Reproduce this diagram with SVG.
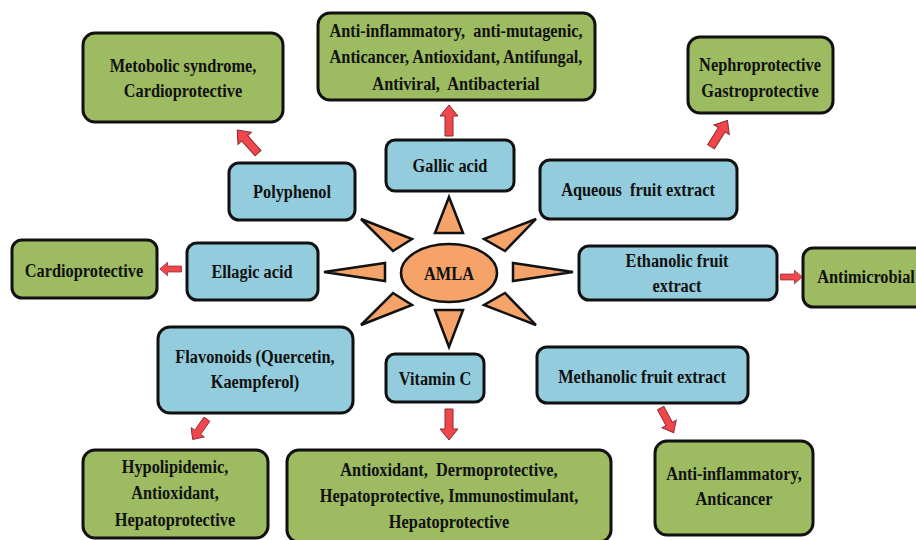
<svg xmlns="http://www.w3.org/2000/svg" width="916" height="540" viewBox="0 0 916 540">
<defs>
<style>
.g{fill:#9dbb61;stroke:#111;stroke-width:3}
.b{fill:#93cddd;stroke:#111;stroke-width:3}
.o{fill:#f6a36a;stroke:#111;stroke-width:2.5;stroke-linejoin:miter}
.t{font-family:"Liberation Serif",serif;font-weight:bold;font-size:19px;fill:#111;text-anchor:middle;white-space:pre}
.a{fill:#f0474c;stroke:#8a2a2e;stroke-width:1}
</style>
<path id="arr" d="M0,-16 L9,-5 L4,-5 L4,15 L-4,15 L-4,-5 L-9,-5 Z"/>
</defs>
<rect width="916" height="540" fill="#fff"/>

<g id="amla">
<polygon class="o" points="449,197 435,233 463,233"/>
<polygon class="o" points="449,347 435,310 463,310"/>
<polygon class="o" points="324,272 385,263 385,281"/>
<polygon class="o" points="573,272 513,263 513,281"/>
<polygon class="o" points="361,219 412,239 393,251"/>
<polygon class="o" points="536,219 484,239 505,251"/>
<polygon class="o" points="361,325 393,293 412,305"/>
<polygon class="o" points="536,325 505,293 484,305"/>
<ellipse class="o" cx="449" cy="273" rx="48" ry="29"/>
<text class="t" transform="translate(449,280) scale(0.86,1)">AMLA</text>
</g>

<g id="metabolic">
<rect class="g" x="83" y="33" width="200" height="89" rx="12"/>
<text class="t" transform="translate(183,72) scale(0.86,1)">Metobolic syndrome,</text>
<text class="t" transform="translate(183,97) scale(0.86,1)">Cardioprotective</text>
</g>
<g id="gallic-effects">
<rect class="g" x="318" y="13" width="277" height="87" rx="12"/>
<text class="t" transform="translate(456,37) scale(0.86,1)">Anti-inflammatory,  anti-mutagenic,</text>
<text class="t" transform="translate(456,63) scale(0.86,1)">Anticancer, Antioxidant, Antifungal,</text>
<text class="t" transform="translate(456,90) scale(0.86,1)">Antiviral,  Antibacterial</text>
</g>
<g id="nephro">
<rect class="g" x="688" y="37" width="145" height="76" rx="12"/>
<text class="t" transform="translate(760,71) scale(0.86,1)">Nephroprotective</text>
<text class="t" transform="translate(760,97) scale(0.86,1)">Gastroprotective</text>
</g>
<g id="cardio-left">
<rect class="g" x="12" y="240" width="145" height="58" rx="10"/>
<text class="t" transform="translate(84,277) scale(0.86,1)">Cardioprotective</text>
</g>
<g id="antimicrobial">
<rect class="g" x="803" y="248" width="130" height="59" rx="10"/>
<text class="t" transform="translate(866,283) scale(0.86,1)">Antimicrobial</text>
</g>
<g id="hypolipidemic">
<rect class="g" x="83" y="450" width="185" height="88" rx="12"/>
<text class="t" transform="translate(175,473) scale(0.86,1)">Hypolipidemic,</text>
<text class="t" transform="translate(175,499) scale(0.86,1)">Antioxidant,</text>
<text class="t" transform="translate(175,526) scale(0.86,1)">Hepatoprotective</text>
</g>
<g id="vitc-effects">
<rect class="g" x="287" y="450" width="324" height="92" rx="12"/>
<text class="t" transform="translate(449,476) scale(0.86,1)">Antioxidant,  Dermoprotective,</text>
<text class="t" transform="translate(449,502) scale(0.86,1)">Hepatoprotective, Immunostimulant,</text>
<text class="t" transform="translate(449,528) scale(0.86,1)">Hepatoprotective</text>
</g>
<g id="antiinflam-bottom">
<rect class="g" x="655" y="441" width="158" height="94" rx="12"/>
<text class="t" transform="translate(734,480) scale(0.86,1)">Anti-inflammatory,</text>
<text class="t" transform="translate(734,505) scale(0.86,1)">Anticancer</text>
</g>

<g id="polyphenol">
<rect class="b" x="229" y="163" width="126" height="57" rx="10"/>
<text class="t" transform="translate(292,198) scale(0.86,1)">Polyphenol</text>
</g>
<g id="gallic">
<rect class="b" x="386" y="140" width="128" height="51" rx="9"/>
<text class="t" transform="translate(450,172) scale(0.86,1)">Gallic acid</text>
</g>
<g id="aqueous">
<rect class="b" x="540" y="160" width="197" height="59" rx="10"/>
<text class="t" transform="translate(638,196) scale(0.86,1)">Aqueous  fruit extract</text>
</g>
<g id="ellagic">
<rect class="b" x="187" y="243" width="131" height="57" rx="10"/>
<text class="t" transform="translate(252,278) scale(0.86,1)">Ellagic acid</text>
</g>
<g id="ethanolic">
<rect class="b" x="579" y="246" width="198" height="54" rx="10"/>
<text class="t" transform="translate(677,267) scale(0.86,1)">Ethanolic fruit</text>
<text class="t" transform="translate(677,292) scale(0.86,1)">extract</text>
</g>
<g id="flavonoids">
<rect class="b" x="158" y="327" width="195" height="86" rx="12"/>
<text class="t" transform="translate(255,363) scale(0.86,1)">Flavonoids (Quercetin,</text>
<text class="t" transform="translate(255,388) scale(0.86,1)">Kaempferol)</text>
</g>
<g id="vitaminc">
<rect class="b" x="386" y="354" width="98" height="48" rx="9"/>
<text class="t" transform="translate(435,385) scale(0.86,1)">Vitamin C</text>
</g>
<g id="methanolic">
<rect class="b" x="537" y="347" width="211" height="56" rx="10"/>
<text class="t" transform="translate(642,383) scale(0.86,1)">Methanolic fruit extract</text>
</g>

<g id="connectors">
<use href="#arr" class="a" transform="translate(248,142) rotate(-42)"/>
<use href="#arr" class="a" transform="translate(449,121)"/>
<use href="#arr" class="a" transform="translate(719,134) rotate(32)"/>
<use href="#arr" class="a" transform="translate(171,269) rotate(-90) scale(0.75,0.7)"/>
<use href="#arr" class="a" transform="translate(791,277) rotate(90) scale(0.75,0.7)"/>
<use href="#arr" class="a" transform="translate(200,429) rotate(-145) scale(0.9,0.8)"/>
<use href="#arr" class="a" transform="translate(449,424) rotate(180)"/>
<use href="#arr" class="a" transform="translate(667,420) rotate(152) scale(0.9,0.9)"/>
</g>
</svg>
